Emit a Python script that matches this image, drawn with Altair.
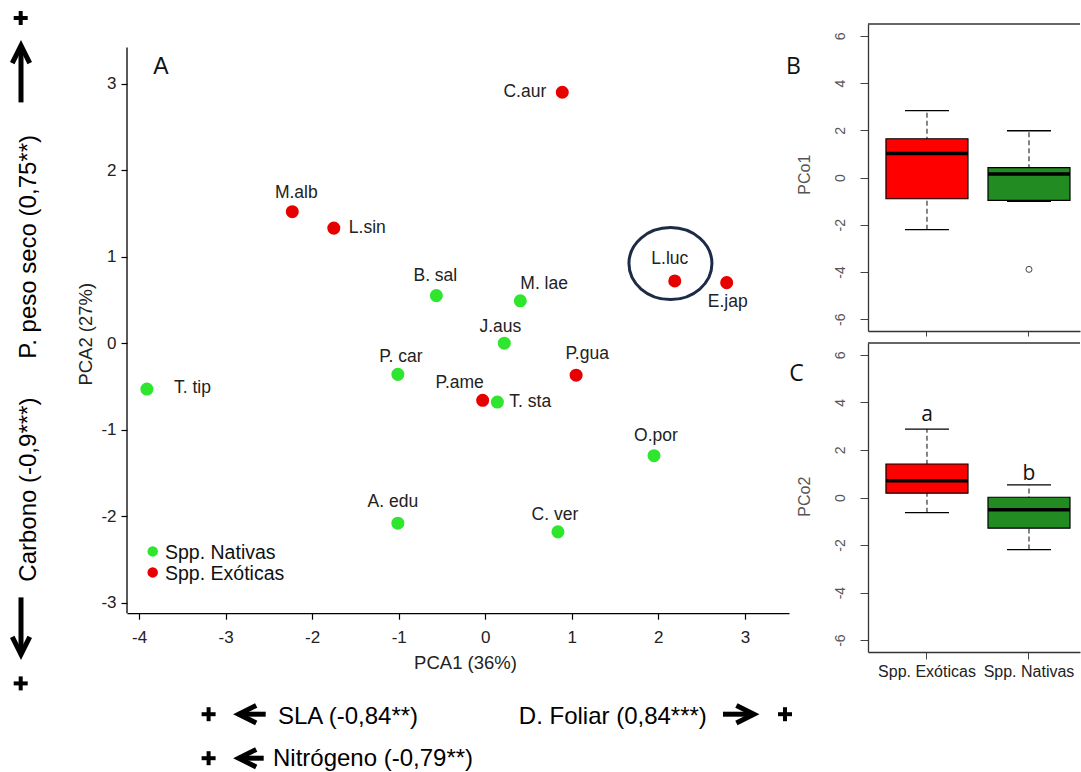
import altair as alt
import pandas as pd

FONT = "Liberation Sans"
FONT_B = "Open Sans"

# ---------------- Panel A data (PCA scores) ----------------
species = ["C.aur", "M.alb", "L.sin", "L.luc", "E.jap", "B. sal", "M. lae", "J.aus",
           "P. car", "T. tip", "P.ame", "T. sta", "P.gua", "O.por", "A. edu", "C. ver"]
origin = ["Spp. Exóticas", "Spp. Exóticas", "Spp. Exóticas", "Spp. Exóticas", "Spp. Exóticas",
          "Spp. Nativas", "Spp. Nativas", "Spp. Nativas", "Spp. Nativas", "Spp. Nativas",
          "Spp. Exóticas", "Spp. Nativas", "Spp. Exóticas", "Spp. Nativas", "Spp. Nativas",
          "Spp. Nativas"]
pca1 = [0.89, -2.23, -1.75, 2.19, 2.79, -0.565, 0.405, 0.22,
        -1.01, -3.91, -0.03, 0.14, 1.05, 1.95, -1.01, 0.84]
pca2 = [2.90, 1.52, 1.33, 0.72, 0.70, 0.55, 0.49, 0.0,
        -0.36, -0.53, -0.66, -0.68, -0.37, -1.30, -2.08, -2.18]

# label placement (pixel offsets from the point) -- style only
label_dx = [-16, 4, 15, -5, 1, -1, 0, -4, 3, 27, -23, 12, 11, 2, -5, -3]
label_dy = [0, -19, 0, -22, 19, -20, -17, -16, -17, -1, -17, 0, -21, -20, -21, -17]
label_align = ["right", "center", "left", "center", "center", "center", "left", "center",
               "center", "left", "center", "left", "center", "center", "center", "center"]

legend_names = ["Spp. Nativas", "Spp. Exóticas"]
point_colors = {"Spp. Nativas": "#2ee62e", "Spp. Exóticas": "#e60000"}

highlight_x = [2.14]
highlight_y = [0.92]

# ---------------- Panels B / C data (box plot statistics) ----------------
groups = ["Spp. Exóticas", "Spp. Nativas"]
box_colors = ["#ff0000", "#228b22"]

pco1_low = [-2.21, -1.01]
pco1_q1 = [-0.90, -0.97]
pco1_med = [1.02, 0.15]
pco1_q3 = [1.64, 0.42]
pco1_high = [2.83, 1.98]
pco1_out_group = ["Spp. Nativas"]
pco1_out_val = [-3.89]

pco2_low = [-0.64, -2.19]
pco2_q1 = [0.18, -1.29]
pco2_med = [0.70, -0.52]
pco2_q3 = [1.41, 0.01]
pco2_high = [2.88, 0.53]
pco2_letters = ["a", "b"]
pco2_letter_y = [3.47, 0.97]

# ---------------- geometry ----------------
OX, OY = 127.0, 23.3          # page position of panel A's plot origin
WA, HA = 662, 589.2
XDOM = [-4.14, 3.51]
PPX = WA / (XDOM[1] - XDOM[0])
YDOM = [-3.12, -3.12 + HA / PPX]
PPY = HA / (YDOM[1] - YDOM[0])
AXIS_TOP = 46.7 - OY          # y axis line starts here (px from origin)

WB, HB, HC = 212, 307, 309

PLAIN_LABEL = "'' + datum.value"   # ASCII hyphen for negatives, as in the original


def one():
    return alt.Data(values=[{"k": 1}])


def px(x):
    return x - OX


def py(y):
    return y - OY


def text_pg(txt, x, y, **kw):
    return alt.Chart(one()).mark_text(text=txt, **kw).encode(
        x=alt.value(px(x)), y=alt.value(py(y)))


def rule_px(x1, y1, x2, y2, **kw):
    return alt.Chart(one()).mark_rule(**kw).encode(
        x=alt.value(x1), y=alt.value(y1), x2=alt.value(x2), y2=alt.value(y2))


def anchor(x1, y1, x2, y2):
    return rule_px(x1, y1, x2, y2, stroke="transparent", strokeWidth=0)


def plus(x, y):
    return [rule_px(px(x) - 7, py(y), px(x) + 7, py(y), strokeWidth=4, color="black",
                    strokeCap="butt"),
            rule_px(px(x), py(y) - 7, px(x), py(y) + 7, strokeWidth=4, color="black",
                    strokeCap="butt")]


ARROW_PATHS = {
    "up": "M -0.5 1 L 0 0 L 0.5 1",
    "down": "M -0.5 -1 L 0 0 L 0.5 -1",
    "left": "M 1 -0.5 L 0 0 L 1 0.5",
    "right": "M -1 -0.5 L 0 0 L -1 0.5",
}


def arrow(tipx, tipy, endx, endy, direction):
    shaft = rule_px(px(tipx), py(tipy), px(endx), py(endy), strokeWidth=5, color="black",
                    strokeCap="butt")
    head = alt.Chart(one()).mark_point(
        shape=ARROW_PATHS[direction], size=1225, filled=False, strokeWidth=5,
        color="black", opacity=1, strokeJoin="miter", strokeCap="butt").encode(
        x=alt.value(px(tipx)), y=alt.value(py(tipy)))
    return [shaft, head]


# ---------------- Panel A ----------------
df = pd.DataFrame({"name": species, "group": origin, "x": pca1, "y": pca2,
                   "dx": label_dx, "dy": label_dy, "align": label_align})
df["lx"] = df["x"] + df["dx"] / PPX
df["ly"] = df["y"] - df["dy"] / PPY
df["col"] = df["group"].map(point_colors)

xs = alt.Scale(domain=XDOM, nice=False, zero=False)
ys = alt.Scale(domain=YDOM, nice=False, zero=False)

axA_x = alt.Axis(values=[-4, -3, -2, -1, 0, 1, 2, 3], grid=False, tickSize=6,
                 labelExpr=PLAIN_LABEL,
                 labelFontSize=17, labelPadding=10, labelColor="#222", labelFlush=False,
                 domainColor="black", tickColor="black", domainWidth=1.3, tickWidth=1.2,
                 titleFontSize=18.5, titleFontWeight="normal", titleColor="#222",
                 titleX=338, titleY=49.4, titleAlign="center", titleBaseline="middle")
axA_y = alt.Axis(values=[-3, -2, -1, 0, 1, 2, 3], grid=False, tickSize=6, domain=False,
                 labelExpr=PLAIN_LABEL,
                 labelFontSize=17, labelPadding=5, labelColor="#222", labelFlush=False,
                 tickColor="black", tickWidth=1.2,
                 titleFontSize=18.5, titleFontWeight="normal", titleColor="#222",
                 titleX=-42, titleY=py(333), titleAngle=270, titleAlign="center",
                 titleBaseline="middle")


def XA(field):
    return alt.X(field, type="quantitative", scale=xs, axis=axA_x, title="PCA1 (36%)")


def YA(field):
    return alt.Y(field, type="quantitative", scale=ys, axis=axA_y, title="PCA2 (27%)")


base = alt.Chart(df)
pts = base.mark_circle(size=170, opacity=1).encode(
    x=XA("x"), y=YA("y"), color=alt.Color("col:N", scale=None))

labels = []
for a in ["left", "center", "right"]:
    labels.append(base.transform_filter(alt.datum.align == a).mark_text(
        align=a, baseline="middle", fontSize=17.5, color="#222").encode(
        x=XA("lx"), y=YA("ly"), text="name:N"))

df_hl = pd.DataFrame({"x": highlight_x, "y": highlight_y})
ellipse = alt.Chart(df_hl).mark_point(
    shape="M -1 0 A 1 0.867 0 1 1 1 0 A 1 0.867 0 1 1 -1 0 Z", size=6889,
    filled=False, strokeWidth=3, color="#1c2b47", opacity=1).encode(
    x=XA("x"), y=YA("y"))

yaxis_line = rule_px(0, AXIS_TOP, 0, HA, color="black", strokeWidth=1.3, strokeCap="butt")

legend_layers = []
for i, name in enumerate(legend_names):
    yy = 550.7 + 21 * i
    legend_layers.append(alt.Chart(one()).mark_circle(
        size=110, opacity=1, color=point_colors[name]).encode(
        x=alt.value(px(152.7)), y=alt.value(py(yy))))
    legend_layers.append(text_pg(name, 165, yy + 1.1, align="left", baseline="middle",
                                 fontSize=19.5, color="#111"))

annot = [
    text_pg("A", 161, 66.3, align="center", baseline="middle", fontSize=23, color="#111"),
    # panel letters and axis titles of the box plots
    text_pg("B", 793.5, 66.3, align="center", baseline="middle", fontSize=23,
            font=FONT_B, color="#111"),
    text_pg("C", 796.5, 373.3, align="center", baseline="middle", fontSize=23,
            font=FONT_B, color="#111"),
    text_pg("PCo1", 805, 174, align="center", baseline="middle", fontSize=16,
            angle=270, color="#555"),
    text_pg("PCo2", 805, 496, align="center", baseline="middle", fontSize=16,
            angle=270, color="#555"),
    # left side
    text_pg("P. peso seco (0,75**)", 35.7, 358, align="left", baseline="alphabetic",
            fontSize=24, angle=270, color="black"),
    text_pg("Carbono (-0,9***)", 35.7, 581, align="left", baseline="alphabetic",
            fontSize=24, angle=270, color="black"),
    # bottom
    text_pg("SLA (-0,84**)", 278, 723.7, align="left", baseline="alphabetic",
            fontSize=24, color="black"),
    text_pg("D. Foliar (0,84***)", 518.8, 723.7, align="left", baseline="alphabetic",
            fontSize=24, color="black"),
    text_pg("Nitrógeno (-0,79**)", 273, 765, align="left", baseline="alphabetic",
            fontSize=24, color="black"),
]
annot += plus(20.7, 17.3) + plus(20.7, 682.7)
annot += plus(208.6, 713.5) + plus(208.6, 757.5) + plus(785, 713.5)
annot += arrow(21, 45, 21, 101.7, "up")
annot += arrow(21, 653.6, 21, 596.7, "down")
annot += arrow(238.7, 713.5, 265.7, 713.5, "left")
annot += arrow(238.7, 757.5, 263.7, 757.5, "left")
annot += arrow(753.9, 713.5, 723, 713.5, "right")

panelA = alt.layer(
    anchor(-OX, -OY, 693, -OY),
    yaxis_line, ellipse, pts, *labels, *legend_layers, *annot,
).properties(width=WA, height=HA)

# ---------------- Panels B / C ----------------
band = alt.Scale(domain=groups, paddingInner=0, paddingOuter=0.039, align=1)
ybox = alt.Scale(domain=[-6.5, 6.5], nice=False, zero=False)

ax_by = alt.Axis(values=[-6, -4, -2, 0, 2, 4, 6], grid=False, labelAngle=270,
                 labelExpr=PLAIN_LABEL,
                 labelAlign="center", labelBaseline="bottom", labelPadding=13,
                 tickSize=8, labelFontSize=14, labelColor="#555", tickColor="#444",
                 domainColor="#333", domainWidth=1.3, labelFlush=False, title=None)
ax_bx = alt.Axis(labels=False, tickSize=5, tickColor="#444", domainColor="#333",
                 domainWidth=1.3, grid=False, title=None)
ax_cx = alt.Axis(labelFontSize=16, labelColor="#222", labelPadding=4, labelAngle=0,
                 tickSize=7, tickColor="#444", domainColor="#333", domainWidth=1.3,
                 grid=False, title=None)


def box_panel(low, q1, med, q3, high, xaxis, height, extra=None, top_anchor=0.0,
              bottom_anchor=None):
    d = pd.DataFrame({"group": groups, "low": low, "q1": q1, "med": med, "q3": q3,
                      "high": high, "fill": box_colors})
    X = alt.X("group:N", scale=band, axis=xaxis, title=None)

    def Y(f):
        return alt.Y(f, type="quantitative", scale=ybox, axis=ax_by, title=None)

    b = alt.Chart(d)
    layers = [
        anchor(-48, top_anchor, -48, bottom_anchor if bottom_anchor is not None else height),
        b.mark_rule(strokeDash=[5, 3], color="#333", strokeWidth=1.2).encode(
            x=X, y=Y("low"), y2="high:Q"),
        b.mark_bar(size=82, stroke="black", strokeWidth=1.2).encode(
            x=X, y=Y("q1"), y2="q3:Q", fill=alt.Fill("fill:N", scale=None)),
        b.mark_tick(size=82, thickness=3.5, color="black", opacity=1).encode(
            x=X, y=Y("med")),
        b.mark_tick(size=44, thickness=1.3, color="black", opacity=1).encode(
            x=X, y=Y("low")),
        b.mark_tick(size=44, thickness=1.3, color="black", opacity=1).encode(
            x=X, y=Y("high")),
        rule_px(0, 0, WB, 0, color="#333", strokeWidth=1.3),
    ]
    if extra:
        layers += [e(X, Y) for e in extra]
    return alt.layer(*layers).properties(width=WB, height=height)


def outliers_b(X, Y):
    d = pd.DataFrame({"group": pco1_out_group, "v": pco1_out_val})
    return alt.Chart(d).mark_point(filled=False, size=36, color="#444", strokeWidth=1,
                                   opacity=1).encode(x=X, y=Y("v"))


def letters_c(X, Y):
    d = pd.DataFrame({"group": groups, "lab": pco2_letters, "ly": pco2_letter_y})
    return alt.Chart(d).mark_text(font=FONT_B, fontSize=21, baseline="middle",
                                  color="#111").encode(x=X, y=Y("ly"), text="lab:N")


panelB = box_panel(pco1_low, pco1_q1, pco1_med, pco1_q3, pco1_high, ax_bx, HB,
                   extra=[outliers_b], top_anchor=0, bottom_anchor=HB + 6)
panelC = box_panel(pco2_low, pco2_q1, pco2_med, pco2_q3, pco2_high, ax_cx, HC,
                   extra=[letters_c], top_anchor=-6)

right = alt.vconcat(panelB, panelC, spacing=0)

chart = alt.hconcat(panelA, right, spacing=0).properties(
    padding=0
).configure(font=FONT).configure_view(stroke="transparent", strokeWidth=0)

chart.save("out.html", embed_options={"renderer": "svg", "actions": False})
